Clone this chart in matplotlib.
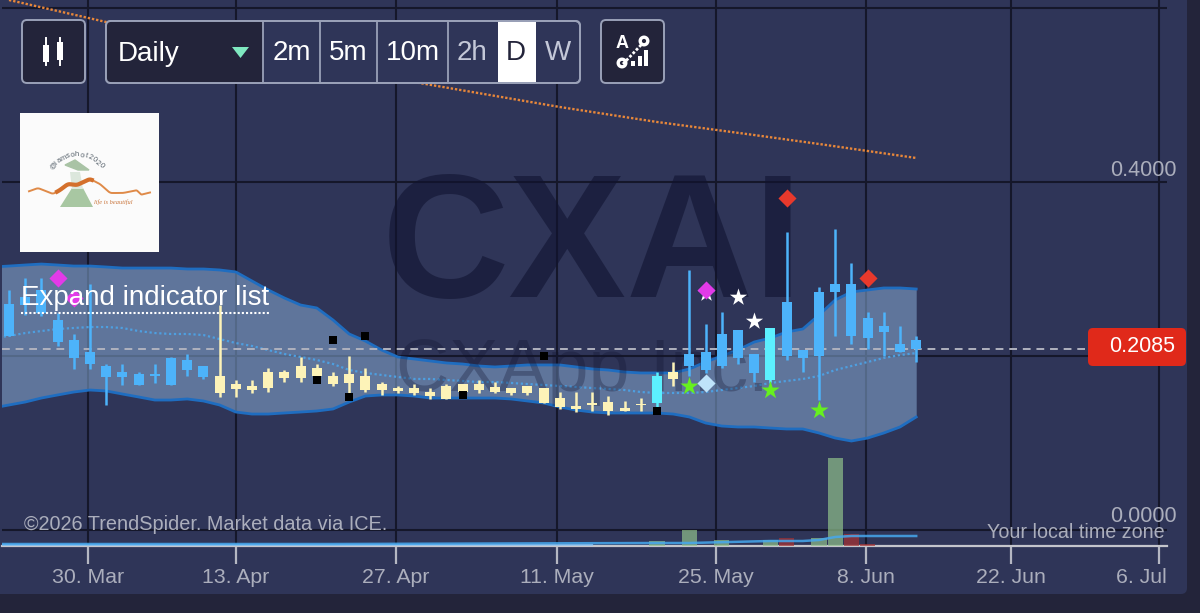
import numpy as np
import matplotlib
matplotlib.use('Agg')
import matplotlib.pyplot as plt
from matplotlib.patches import FancyBboxPatch, Rectangle, Polygon, Circle
from matplotlib.transforms import ScaledTranslation

plt.rcParams['font.family'] = ['Liberation Sans', 'DejaVu Sans']

# Candles, one per trading day
high = [.2759, .2897, .2897, .2494, .2253, .2828, .1908, .1908, .1816, .1908, .1989, .2023, .1885, .2586, .1724, .1724,
        .1862, .1839, .1989, .1908, .1816, .2000, .1862, .1701, .1655, .1678, .1632, .1678, .1678, .1724, .1701, .1632,
        .1655, .1632, .1586, .1586, .1586, .1540, .1483, .1517, .1816, .1931, .2989, .2368, .2506, .2299, .2023, .2322,
        .3425, .2069, .2793, .3460, .3069, .2506, .2506, .2345, .2230]
body_top = [.2598, .2678, .2759, .2414, .2184, .2046, .1885, .1816, .1793, .1793, .1977, .1954, .1885, .1770, .1678, .1655,
            .1816, .1816, .1885, .1862, .1770, .1793, .1770, .1678, .1632, .1632, .1586, .1655, .1678, .1678, .1644, .1632,
            .1655, .1632, .1517, .1425, .1460, .1471, .1402, .1448, .1770, .1816, .2023, .2046, .2253, .2299, .2023, .2322,
            .2621, .2069, .2736, .2828, .2828, .2437, .2345, .2138, .2184]
body_bottom = [.2230, .2586, .2494, .2161, .1977, .1908, .1759, .1759, .1667, .1770, .1667, .1839, .1759, .1575, .1621, .1609,
               .1632, .1747, .1747, .1770, .1678, .1690, .1609, .1609, .1598, .1575, .1540, .1506, .1586, .1609, .1586, .1575,
               .1575, .1460, .1414, .1391, .1437, .1368, .1368, .1437, .1460, .1736, .1885, .1839, .1885, .1977, .1805, .1724,
               .2000, .1977, .2000, .2736, .2230, .2207, .2276, .2046, .2080]
low = [.2230, .2471, .2460, .2115, .1851, .1851, .1437, .1667, .1667, .1690, .1667, .1770, .1736, .1529, .1529, .1575,
       .1586, .1701, .1701, .1759, .1655, .1575, .1586, .1552, .1575, .1552, .1506, .1506, .1575, .1575, .1575, .1552,
       .1552, .1460, .1391, .1356, .1368, .1322, .1368, .1368, .1414, .1655, .1770, .1805, .1862, .1908, .1701, .1701,
       .1954, .1816, .1494, .2230, .2138, .2080, .2000, .2046, .1931]
# b = blue, y = cream, c = cyan
candle_type = list('bbbbbbbbbbbbb' + 'y' * 27 + 'cy' + 'bbbbb' + 'cbbbbbbbbb')

# Bollinger bands, these start one day before the first candle
band_days = list(range(-1, 57))
band_upper = [.3023, .3034, .3046, .3057, .3046, .3034, .3034, .3023, .3011, .3011, .3011, .3011, .3000, .3000, .2989, .2966,
              .2862, .2759, .2667, .2586, .2552, .2414, .2253, .2172, .2069, .1989, .1966, .1943, .1920, .1908, .1885, .1874,
              .1885, .1897, .1897, .1897, .1874, .1851, .1839, .1816, .1805, .1805, .1805, .1851, .1931, .2000, .2069, .2161,
              .2207, .2276, .2310, .2471, .2644, .2736, .2759, .2782, .2782, .2770]
band_lower = [.1402, .1437, .1471, .1517, .1552, .1586, .1609, .1598, .1563, .1529, .1494, .1494, .1506, .1483, .1437, .1356,
              .1333, .1333, .1345, .1356, .1368, .1391, .1471, .1540, .1552, .1552, .1540, .1517, .1517, .1517, .1517, .1517,
              .1506, .1483, .1460, .1414, .1379, .1356, .1345, .1345, .1345, .1345, .1333, .1299, .1230, .1195, .1184, .1184,
              .1172, .1161, .1161, .1115, .1057, .1023, .1057, .1115, .1184, .1299]
band_mid = [.2207, .2230, .2264, .2287, .2310, .2322, .2333, .2333, .2322, .2287, .2264, .2253, .2253, .2241, .2195, .2149,
            .2115, .2069, .2023, .1989, .1954, .1908, .1839, .1805, .1782, .1759, .1736, .1736, .1724, .1713, .1701, .1701,
            .1690, .1678, .1667, .1655, .1644, .1632, .1621, .1609, .1586, .1575, .1575, .1575, .1586, .1609, .1632, .1655,
            .1690, .1713, .1736, .1770, .1839, .1885, .1931, .1977, .2011, .2034]

# Long moving average
ma_days = [0, 6, 25, 34, 40, 46, 50, 56]
ma_vals = [.6092, .5839, .5149, .4862, .4690, .4540, .4437, .4276]

# Signals
magenta_days = [3, 4, 43]
magenta_vals = [.2897, .2667, .2759]
red_days = [48, 53]
red_vals = [.3816, .2897]
pale_days = [43]
pale_vals = [.1690]
green_days = [42, 47, 50]
green_vals = [.1655, .1609, .1379]
white_days = [45, 46, 43]
white_vals = [.2678, .2402, .2724]
black_days = [20, 22, 19, 21, 28, 33, 40]
black_vals = [.2184, .2230, .1724, .1529, .1552, .2000, .1368]

# Volume in millions (approximate)
up_vol_days = [40, 42, 44, 47, 50, 51]
up_vol = [5, 16, 6, 6, 8, 88]
down_vol_days = [48, 52, 53]
down_vol = [8, 12, 2]
obv_days = [-1, 20, 40, 42, 47, 49, 50, 51, 52, 56]
obv_vals = [2, 2, 3, 3, 5, 5, 6, 9, 10, 10]

last_price = 0.2085
price_ticks = [0, .2, .4, .6]
date_ticks = [4.88, 14.01, 23.89, 33.83, 43.64, 52.9, 61.85, 70.99]
date_labels = ['30. Mar', '13. Apr', '27. Apr', '11. May', '25. May', '8. Jun', '22. Jun', '6. Jul']

W, H = 1200, 613
PANEL = '#2F3558'
DARK = '#23243A'
GRID = '#15172A'
GREY = '#ABAEBC'
COLORS = {'b': '#4DB3FA', 'y': '#FDF3B8', 'c': '#5CF0FF'}

fig = plt.figure(figsize=(W / 100, H / 100), dpi=100, facecolor=DARK)

# background layer in pixels: panel
bg = fig.add_axes([0, 0, 1, 1], zorder=0)
bg.set_xlim(0, W)
bg.set_ylim(H, 0)
bg.axis('off')
bg.add_patch(FancyBboxPatch((-20, -20), 1207, 614, boxstyle='round,pad=0,rounding_size=6', fc=PANEL, ec='none'))

# main chart
ax = fig.add_axes([2 / W, (H - 546) / H, 1165 / W, 546 / H], zorder=1)
ax.patch.set_visible(False)
ax.set_xlim(-7 / 16.2, 1158 / 16.2)
ax.set_ylim(-16 / 870, 530 / 870)
for name in ['top', 'left', 'right']:
    ax.spines[name].set_visible(False)
ax.spines['bottom'].set_color('#C4C5CC')
ax.spines['bottom'].set_linewidth(1.6)
ax.set_xticks(date_ticks, date_labels)
ax.set_yticks(price_ticks, [])
ax.tick_params(axis='x', length=13, width=1.6, color='#B5B7C2', labelcolor=GREY, labelsize=15.3, pad=3)
ax.tick_params(axis='y', length=0)
ax.grid(True, color=GRID, linewidth=1.5, zorder=1)
ax.set_axisbelow(True)

# last label is pushed inside the panel
last_label = ax.get_xticklabels()[-1]
last_label.set_ha('right')
last_label.set_transform(last_label.get_transform() + ScaledTranslation(8 / 100, 0, fig.dpi_scale_trans))

ax.fill_between(band_days, band_lower, band_upper, color='#87ABD4', alpha=0.55, linewidth=0, zorder=2)
ax.plot(band_days, band_upper, color='#1F6DC0', linewidth=2, zorder=3)
ax.plot(band_days, band_lower, color='#1F6DC0', linewidth=2, zorder=3)
ax.plot(band_days, band_mid, color='#4E9FE0', linewidth=1.6, linestyle=(0, (1, 1.2)), zorder=3)
ax.plot(ma_days, ma_vals, color='#E8873A', linewidth=1.7, linestyle=(0, (1, 0.8)), zorder=3)

# watermark goes over the band but under the candles
ax.text(592, 297, 'CXAI', transform=bg.transData, fontsize=127, fontweight='bold', color='#101330', alpha=0.6,
        ha='center', va='baseline', zorder=3.5)
ax.text(582, 391, 'CXApp Inc.', transform=bg.transData, fontsize=53, color='#101330', alpha=0.3,
        ha='center', va='baseline', zorder=3.5)

ax.plot([-7 / 16.2, 1076 / 16.2], [last_price, last_price], color='#B0B2BE', linewidth=1.4,
        linestyle=(0, (4, 3)), zorder=4)

days = np.arange(len(high))
colors = [COLORS[t] for t in candle_type]
ax.vlines(days, low, high, colors=colors, linewidth=1.8, zorder=5)
ax.bar(days, np.array(body_top) - np.array(body_bottom), bottom=body_bottom, width=0.62, color=colors, zorder=6)

ax.scatter(black_days, black_vals, marker='s', s=38, color='black', linewidths=0, zorder=7)
ax.scatter(white_days, white_vals, marker='*', s=170, color='white', linewidths=0, zorder=7)
ax.scatter(green_days, green_vals, marker='*', s=190, color='#66F01E', linewidths=0, zorder=7)
ax.scatter(magenta_days, magenta_vals, marker='D', s=85, color='#E23AE8', linewidths=0, zorder=8)
ax.scatter(red_days, red_vals, marker='D', s=85, color='#E8392C', linewidths=0, zorder=8)
ax.scatter(pale_days, pale_vals, marker='D', s=85, color='#BFE3FA', linewidths=0, zorder=8)

# volume pane sits on the same x scale
vol = fig.add_axes([2 / W, (H - 546) / H, 1165 / W, 100 / H], zorder=2)
vol.patch.set_visible(False)
vol.axis('off')
vol.set_xlim(ax.get_xlim())
vol.set_ylim(0, 100)
vol.bar(up_vol_days, up_vol, width=0.95, color='#8FC08A', alpha=0.7)
vol.bar(down_vol_days, down_vol, width=0.95, color='#A83232', alpha=0.7)
vol.plot([-1, 36], [0.6, 0.6], color='#9CC4EA', linewidth=1.6, alpha=0.9)
vol.plot(obv_days, obv_vals, color='#46A8EE', linewidth=1.8, alpha=0.85)

# interface layer in pixels
ui = fig.add_axes([0, 0, 1, 1], zorder=3)
ui.patch.set_visible(False)
ui.set_xlim(0, W)
ui.set_ylim(H, 0)
ui.axis('off')


def box(x0, y0, x1, y1, fc, ec='#9AA1B8', r=5, lw=1.4):
    ui.add_patch(FancyBboxPatch((x0, y0), x1 - x0, y1 - y0, boxstyle=f'round,pad=0,rounding_size={r}',
                                fc=fc, ec=ec, lw=lw))


# toolbar
box(22, 20, 85, 83, DARK)
for x, t0, t1 in [(45.5, 45, 62), (59.5, 42, 60)]:
    ui.plot([x, x], [38, 65], color='white', linewidth=1.4)
    ui.add_patch(Rectangle((x - 3, t0), 6, t1 - t0, fc='white', ec='none'))

box(106, 21, 580, 83, PANEL)
box(106, 21, 263, 83, DARK, ec='none', r=4, lw=0)
ui.add_patch(Rectangle((498, 22), 38, 60, fc='white', ec='none'))
for x in [263, 320, 377, 448]:
    ui.plot([x, x], [21, 83], color='#9AA1B8', linewidth=1.3)
box(106, 21, 580, 83, 'none')
ui.text(118, 54, 'Daily', fontsize=20, color='white', va='center')
ui.add_patch(Polygon([(232, 47), (249, 47), (240.5, 58)], fc='#7FE8C0', ec='none'))
for label, x, col in [('2m', 292, 'white'), ('5m', 348, 'white'), ('10m', 413, 'white'),
                      ('2h', 472, '#C4C8D8'), ('D', 516, '#23243A'), ('W', 558, '#C4C8D8')]:
    ui.text(x, 53, label, fontsize=20, color=col, ha='center', va='center')

box(601, 20, 664, 83, DARK)
ui.text(622, 44, 'A', fontsize=13, fontweight='bold', color='white', ha='center', va='center')
ui.plot([623, 642], [64, 44], color='white', linewidth=2, linestyle=(0, (1, 0.7)))
ui.add_patch(Circle((622, 63), 3.8, fc=DARK, ec='white', lw=2.4))
ui.add_patch(Circle((644, 41), 3.8, fc=DARK, ec='white', lw=2.4))
for x, y0 in [(633, 61), (639.5, 56), (646, 50)]:
    ui.add_patch(Rectangle((x - 2, y0), 4, 66 - y0, fc='white', ec='none'))

# logo
ui.add_patch(Rectangle((20, 113), 139, 139, fc='#FBFBFB', ec='none'))
handle = '@iamsohot2020'
for i, ch in enumerate(handle):
    ang = np.radians(140 - i * (100 / (len(handle) - 1)))
    ui.text(77 + 31 * np.cos(ang), 186 - 31 * np.sin(ang), ch, fontsize=5.4, color='#55606A', ha='center', va='center',
            rotation=np.degrees(ang) - 90)
ui.add_patch(Polygon([(60, 207), (93, 207), (83, 188), (72, 188)], fc='#A8C7A2', ec='none'))
ui.add_patch(Polygon([(70, 172), (80, 172), (83, 189), (72, 189)], fc='#DCE7DC', ec='none'))
ui.fill([65, 75, 89, 78], [165, 160, 170, 170], color='#A9C3A5')
rib_x = [27, 38, 53, 60, 68, 77, 90, 100, 110, 123, 138, 140, 152]
rib_y = [192, 188, 194, 190, 184, 185, 179, 184, 193, 193, 190, 195, 192]
xs = np.linspace(27, 152, 250)
ys = np.convolve(np.interp(xs, rib_x, rib_y), np.ones(9) / 9, mode='valid')
ui.plot(xs[4:-4], ys, color='#DF8A48', linewidth=1.4)
ui.plot(xs[60:130], ys[56:126], color='#D4702C', linewidth=3)
ui.text(113, 202, 'life is beautiful', fontsize=4.6, style='italic', family='Liberation Serif', color='#C9743A',
        ha='center', va='center')

# labels on top of the chart
ui.text(21, 298, 'Expand indicator list', fontsize=20, color='white', va='center')
ui.plot([21, 269], [313, 313], color='white', linewidth=1.5, linestyle=(0, (1, 1)))
ui.text(24, 524, '©2026 TrendSpider. Market data via ICE.', fontsize=14.3, color=GREY, va='center')
ui.text(1165, 532, 'Your local time zone', fontsize=14.2, color=GREY, ha='right', va='center')
ui.text(1177, 170, '0.4000', fontsize=15.5, color=GREY, ha='right', va='center')
ui.text(1177, 517, '0.0000', fontsize=15.5, color=GREY, ha='right', va='center')
box(1088, 328, 1186, 366, '#E0291A', ec='none', r=5, lw=0)
ui.text(1175, 347, f'{last_price:.4f}', fontsize=15.5, color='white', ha='right', va='center')

fig.savefig('out.png', dpi=100, facecolor=fig.get_facecolor())
